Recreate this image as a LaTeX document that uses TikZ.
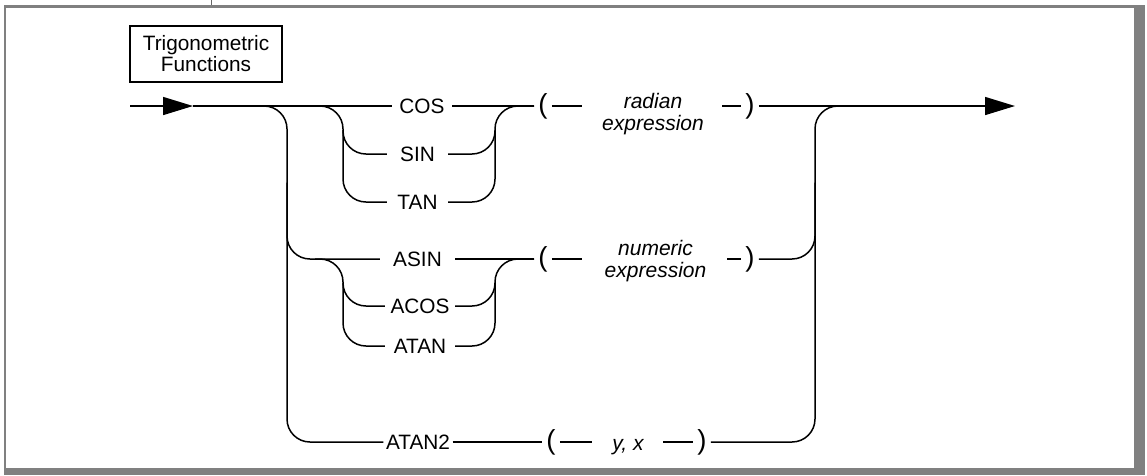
\documentclass[tikz,border=0pt]{standalone}
\usepackage{fontspec}
\setmainfont{Liberation Sans}
\usetikzlibrary{arrows.meta,calc}
\begin{document}
\begin{tikzpicture}[x=1pt,y=-1pt,
  ln/.style={line width=1.5pt},
  rc/.style={rounded corners=23pt},
  arr/.style={line width=1.5pt,-{Triangle[length=30pt,width=18pt]}},
  lab/.style={font=\fontsize{20.8}{22}\selectfont, text height=14.9pt, text depth=0pt, inner ysep=0pt, inner xsep=0pt},
  par/.style={font=\fontsize{27.5}{28}\selectfont, text height=20pt, text depth=5.8pt, inner ysep=0pt, inner xsep=4pt},
  ital/.style={font=\fontsize{21}{22}\selectfont\itshape, align=center, inner sep=0pt},
  frame/.style={fill=black!50}]
\useasboundingbox (0,0) rectangle (1147,475);
% frame
\fill[frame] (4,5) rectangle (1145,8);
\fill[frame] (4,5) rectangle (6,475);
\fill[frame] (1134,5) rectangle (1145,475);
\fill[frame] (4,468) rectangle (1145,475);
\draw[black!60, line width=1pt] (211.7,0) -- (211.7,5);
% title
\node[draw, line width=2pt, minimum width=152pt, minimum height=56pt, inner sep=0pt, align=center, font=\fontsize{20.8}{21}\selectfont] (title) at (206,54) {Trigonometric\\Functions};
% labels
\node[lab, minimum width=60pt] (cos) at (422,106) {COS};
\node[lab, minimum width=61pt] (sin) at (417.5,154) {SIN};
\node[lab, minimum width=61pt] (tan) at (417.5,202) {TAN};
\node[lab, minimum width=75pt] (asin) at (417.5,259) {ASIN};
\node[lab, minimum width=70pt] (acos) at (420,306) {ACOS};
\node[lab, minimum width=70pt] (atan) at (420,346) {ATAN};
\node[lab, minimum width=69pt] (atan2) at (418,442) {ATAN2};
% parentheses
\node[par] (lp1) at (543,106) {(};
\node[par] (rp1) at (750,106) {)};
\node[par] (lp2) at (543,259) {(};
\node[par] (rp2) at (750,259) {)};
\node[par] (lp3) at (551,442) {(};
\node[par] (rp3) at (702,442) {)};
% italic arguments
\node[ital] (radexp) at (653,114.5) {radian\\expression};
\node[ital] (numexp) at (655.5,261) {numeric\\expression};
\node[ital, anchor=base] (yx) at (628,450) {y, x};
% coordinates
\coordinate (in) at (130,106);
\coordinate (inTip) at (193,106);
\coordinate (outTip) at (1015,106);
\coordinate (oRjoin) at (880,106);
\coordinate (oLtop) at (287,106);
\coordinate (oLasin) at (287,259);
\coordinate (oLatan2) at (287,442);
\coordinate (iLtop) at (343,106);
\coordinate (iLsin) at (343,154);
\coordinate (iLtan) at (343,202);
\coordinate (iRtop) at (495,106);
\coordinate (iRsin) at (495,154);
\coordinate (iRtan) at (495,202);
\coordinate (jLasin) at (343,259);
\coordinate (jLacos) at (343,306);
\coordinate (jLatan) at (343,346);
\coordinate (jRasin) at (495,259);
\coordinate (jRacos) at (495,306);
\coordinate (jRatan) at (495,346);
\coordinate (oRtop) at (815,106);
\coordinate (oRasin) at (815,259);
\coordinate (oRatan2) at (815,442);
\coordinate (d1a) at (582,106);
\coordinate (d1b) at (722,106);
\coordinate (d2a) at (582,259);
\coordinate (d2b) at (727,259);
\coordinate (d3a) at (592,442);
\coordinate (d3b) at (663,442);
% connectors
\draw[arr] (in) -- (inTip);
\draw[ln] (inTip) -- (cos.west);
\draw[ln,rc] (inTip) -- (oLtop) -- (oLatan2) -- (atan2.west);
\draw[ln,rc] ($(oLtop)!0.5!(oLasin)$) -- (oLasin) -- (asin.west);
\draw[ln,rc] (inTip) -- (iLtop) -- (iLtan) -- (tan.west);
\draw[ln,rc] ($(iLtop)!0.5!(iLsin)$) -- (iLsin) -- (sin.west);
\draw[ln] (cos.east) -- (lp1.west);
\draw[ln,rc] (tan.east) -- (iRtan) -- (iRtop) -- (lp1.west);
\draw[ln,rc] (sin.east) -- (iRsin) -- ($(iRsin)!0.5!(iRtop)$);
\draw[ln,rc] ($(oLasin)!0.5!(jLasin)$) -- (jLasin) -- (jLatan) -- (atan.west);
\draw[ln,rc] ($(jLasin)!0.5!(jLacos)$) -- (jLacos) -- (acos.west);
\draw[ln] (asin.east) -- (lp2.west);
\draw[ln,rc] (atan.east) -- (jRatan) -- (jRasin) -- (lp2.west);
\draw[ln,rc] (acos.east) -- (jRacos) -- ($(jRacos)!0.5!(jRasin)$);
\draw[ln] (atan2.east) -- (lp3.west);
\draw[ln] (lp1.east) -- (d1a);
\draw[ln] (d1b) -- (rp1.west);
\draw[ln] (lp2.east) -- (d2a);
\draw[ln] (d2b) -- (rp2.west);
\draw[ln] (lp3.east) -- (d3a);
\draw[ln] (d3b) -- (rp3.west);
\draw[arr] (rp1.east) -- (outTip);
\draw[ln,rc] (rp3.east) -- (oRatan2) -- (oRtop) -- (oRjoin);
\draw[ln,rc] (rp2.east) -- (oRasin) -- ($(oRasin)!0.5!(oRtop)$);
\end{tikzpicture}
\end{document}
